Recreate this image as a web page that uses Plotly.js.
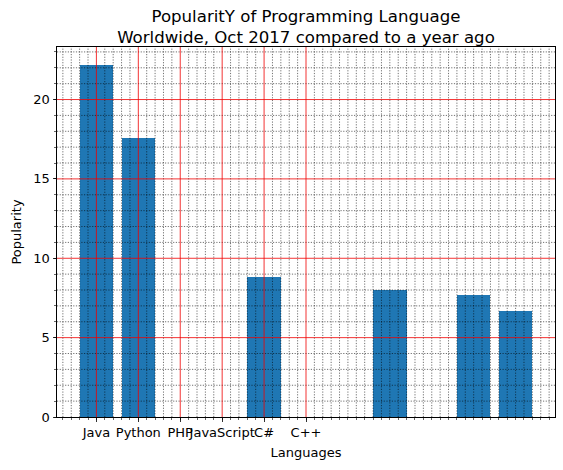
<!DOCTYPE html>
<html>
<head>
<meta charset="utf-8">
<script src="https://cdn.plot.ly/plotly-3.0.1.min.js"></script>
<style>html,body{margin:0;padding:0;background:#fff;}#chart{width:563px;height:470px;}</style>
</head>
<body>
<div id="chart"></div>
<script>
// Data
const languages = ["Java", "Python", "PHP", "JavaScript", "C#", "C++"];
const barPositions = [0, 1, 4, 7, 9, 10];
const popularity = [22.2, 17.6, 8.8, 8.0, 7.7, 6.7];
const xTickVals = [0, 1, 2, 3, 4, 5];
const yTickVals = [0, 5, 10, 15, 20];

const barWidth = 0.8;
const xMinData = Math.min(...barPositions) - barWidth / 2;
const xMaxData = Math.max(...barPositions) + barWidth / 2;
const xPad = (xMaxData - xMinData) * 0.05;
const xRange = [xMinData - xPad, xMaxData + xPad];
const yMax = Math.max(...popularity) * 1.05;
const yRange = [0, yMax];

const FONT = "DejaVu Sans, sans-serif";

// Grid lines (drawn above bars, like the reference)
const shapes = [];
const minorStyle = {color: "rgba(0,0,0,0.7)", width: 0.8, dash: "1.2px,1.5px"};
const majorStyle = {color: "rgba(240,0,0,0.8)", width: 1};
const eps = 1e-9;
// minor x every 0.2
for (let i = Math.ceil(xRange[0] / 0.2); i * 0.2 <= xRange[1]; i++) {
  const v = +(i * 0.2).toFixed(6);
  if (Math.abs(v - Math.round(v)) < eps && xTickVals.includes(Math.round(v))) continue;
  shapes.push({type: "line", xref: "x", yref: "paper", x0: v, x1: v, y0: 0, y1: 1, layer: "above", line: minorStyle});
}
// minor y every 1
for (let v = 1; v <= yRange[1]; v++) {
  if (yTickVals.includes(v)) continue;
  shapes.push({type: "line", xref: "paper", yref: "y", x0: 0, x1: 1, y0: v, y1: v, layer: "above", line: minorStyle});
}
// major
xTickVals.forEach(v => shapes.push({type: "line", xref: "x", yref: "paper", x0: v, x1: v, y0: 0, y1: 1, layer: "above", line: majorStyle}));
yTickVals.filter(v => v > 0).forEach(v => shapes.push({type: "line", xref: "paper", yref: "y", x0: 0, x1: 1, y0: v, y1: v, layer: "above", line: majorStyle}));

const trace = {
  type: "bar",
  x: barPositions,
  y: popularity,
  width: barWidth,
  marker: {color: "#1f77b4", line: {width: 0}},
  hoverinfo: "none"
};

const layout = {
  width: 563,
  height: 470,
  margin: {l: 57, r: 8, t: 47, b: 53},
  paper_bgcolor: "#fff",
  plot_bgcolor: "#fff",
  font: {family: FONT, size: 13, color: "#000"},
  showlegend: false,
  title: {
    text: "PopularitY of Programming Language<br>Worldwide, Oct 2017 compared to a year ago",
    font: {family: FONT, size: 16.6, color: "#000"},
    xref: "paper", x: 0.5, xanchor: "center",
    yref: "container", y: 1 - 21.5 / 470, yanchor: "top"
  },
  xaxis: {
    range: xRange,
    tickmode: "array",
    tickvals: xTickVals,
    ticktext: languages,
    tickangle: 0,
    showgrid: false,
    zeroline: false,
    showline: true, mirror: true, linecolor: "#000", linewidth: 1,
    ticks: "outside", ticklen: 3.5, tickwidth: 0.8, tickcolor: "#000",
    minor: {dtick: 0.2, tick0: 0, ticks: "outside", ticklen: 2, tickwidth: 0.6, tickcolor: "#000", showgrid: false},
    tickfont: {family: FONT, size: 13, color: "#000"},
    title: {text: "Languages", font: {family: FONT, size: 13, color: "#000"}, standoff: 8},
    automargin: false
  },
  yaxis: {
    range: yRange,
    tickmode: "array",
    tickvals: yTickVals,
    showgrid: false,
    zeroline: false,
    showline: true, mirror: true, linecolor: "#000", linewidth: 1,
    ticks: "outside", ticklen: 3.5, tickwidth: 0.8, tickcolor: "#000",
    minor: {dtick: 1, tick0: 0, ticks: "outside", ticklen: 2, tickwidth: 0.6, tickcolor: "#000", showgrid: false},
    tickfont: {family: FONT, size: 13, color: "#000"},
    title: {text: "Popularity", font: {family: FONT, size: 13, color: "#000"}, standoff: 8},
    automargin: false
  },
  shapes: shapes,
  bargap: 0
};

Plotly.newPlot("chart", [trace], layout, {displayModeBar: false, staticPlot: true});
</script>
</body>
</html>
